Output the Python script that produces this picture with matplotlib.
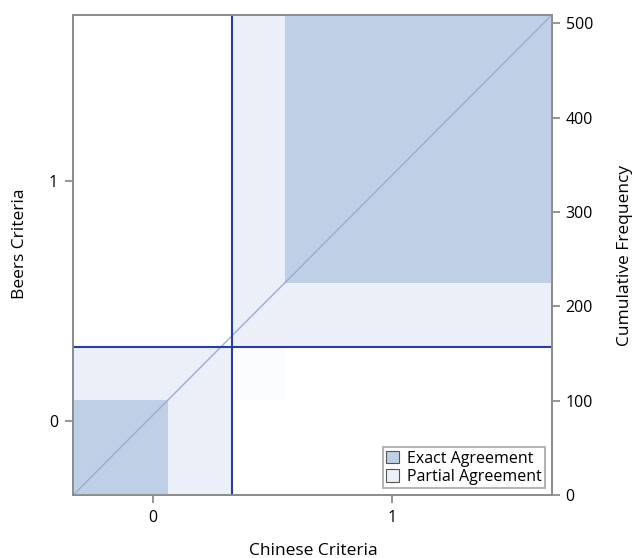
import matplotlib.pyplot as plt
from matplotlib.patches import Rectangle, Patch
import numpy as np

plt.rcParams['font.family'] = ['Open Sans', 'DejaVu Sans']

# rows: Beers Criteria, columns: Chinese Criteria
categories = ['0', '1']
counts = np.array([[101, 56],
                   [68, 284]])

exact_color = '#bfcfe6'
partial_color = '#eaeff8'
line_color = '#2a3d9e'
spine_color = '#8c8c8c'

n = counts.sum()
row_tot = counts.sum(axis=1)
col_tot = counts.sum(axis=0)
row_cum = np.concatenate([[0], np.cumsum(row_tot)])
col_cum = np.concatenate([[0], np.cumsum(col_tot)])

W, H = 636, 558
fig = plt.figure(figsize=(W / 100, H / 100), dpi=100)
ax = fig.add_axes([73.3 / W, 1 - 495 / H, 478.4 / W, 480 / H])

k = len(categories)
# faint off-diagonal cell boxes (upper side)
for i in range(k):
    for j in range(i + 1, k):
        x0 = col_cum[j] + counts[:i, j].sum()
        y0 = row_cum[i] + counts[i, :j].sum()
        ax.add_patch(Rectangle((x0, y0), counts[i, j], counts[i, j],
                               facecolor='#fbfcfe', edgecolor='none', zorder=1))

# partial agreement blocks
for i in range(k):
    ax.add_patch(Rectangle((col_cum[i], row_cum[i]), col_tot[i], row_tot[i],
                           facecolor=partial_color, edgecolor='none', zorder=2))

# exact agreement squares
for i in range(k):
    x0 = col_cum[i] + counts[:i, i].sum()
    y0 = row_cum[i] + counts[i, :i].sum()
    ax.add_patch(Rectangle((x0, y0), counts[i, i], counts[i, i],
                           facecolor=exact_color, edgecolor='none', zorder=3))

# diagonal
ax.plot([0, n], [0, n], color='#98abd6', linewidth=1.1, alpha=0.9, zorder=4)

# cumulative total lines
for i in range(1, k):
    ax.axvline(col_cum[i], color=line_color, linewidth=1.5, zorder=5)
    ax.axhline(row_cum[i], color=line_color, linewidth=1.5, zorder=5)

ax.set_xlim(0, n)
ax.set_ylim(0, n)

ax.set_xticks((col_cum[:-1] + col_cum[1:]) / 2)
ax.set_xticklabels(categories)
ax.set_yticks((row_cum[:-1] + row_cum[1:]) / 2)
ax.set_yticklabels(categories)

ax2 = ax.twinx()
ax2.set_ylim(0, n)
ax2.set_yticks(np.arange(0, 501, 100))

for a in (ax, ax2):
    for s in a.spines.values():
        s.set_color(spine_color)
        s.set_linewidth(1.3)
    a.tick_params(colors=spine_color, labelcolor='black', labelsize=11.5,
                  length=6, width=1.3)
ax.tick_params(axis='x', pad=5)
ax.tick_params(axis='y', pad=5)
ax2.tick_params(axis='y', pad=4)

fig.text(20 / W, 1 - 243.5 / H, 'Beers Criteria', rotation=90,
         ha='center', va='center', fontsize=12.5)
fig.text(625 / W, 1 - 255 / H, 'Cumulative Frequency', rotation=90,
         ha='center', va='center', fontsize=12.5)
fig.text(313 / W, 1 - 555 / H, 'Chinese Criteria',
         ha='center', va='baseline', fontsize=12.5)

handles = [Patch(facecolor=exact_color, edgecolor='#555555', linewidth=0.8),
           Patch(facecolor=partial_color, edgecolor='#555555', linewidth=0.8)]
leg = ax.legend(handles, ['Exact Agreement', 'Partial Agreement'],
                loc='lower right', bbox_to_anchor=(0.986, 0.014),
                fontsize=11.5, frameon=True, fancybox=False,
                handlelength=0.8, handleheight=0.8, handletextpad=0.5,
                borderpad=0.2, labelspacing=0.15, borderaxespad=0)
leg.get_frame().set_edgecolor('#999999')
leg.get_frame().set_linewidth(1.3)
leg.set_zorder(10)

fig.savefig('out.png', dpi=100)
